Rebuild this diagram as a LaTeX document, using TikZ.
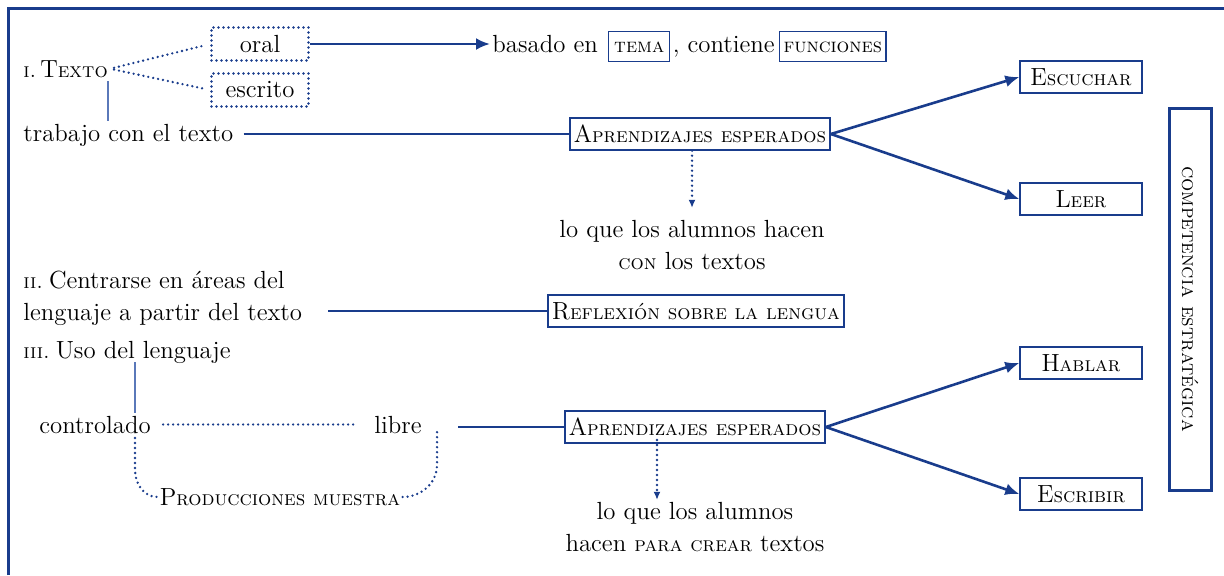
\documentclass[tikz,border=0pt]{standalone}
\usepackage{fontspec}
\usepackage{tikz}
\usetikzlibrary{arrows.meta,positioning}
\definecolor{linkblue}{RGB}{25,60,140}
\definecolor{paleblue}{RGB}{90,120,185}
\newcommand\scx[1]{{\fontsize{10.4}{14}\selectfont\textsc{#1}}}
\newcommand\capsc[2]{#1\scx{#2}}
\newcommand\sctag[1]{{\fontsize{10}{14}\selectfont\textsc{#1}}}

\begin{document}
\begin{tikzpicture}[x=0.5pt,y=-0.5pt,
	font=\fontsize{12.4}{16}\selectfont,
	txt/.style={inner sep=1pt},
	mainline/.style={draw=linkblue,line width=1.3pt},
	thinline/.style={draw=paleblue,line width=0.8pt},
	dotline/.style={draw=linkblue,line width=1.3pt,line cap=round,dash pattern=on 0pt off 2.5pt},
	tipline/.style={mainline,-{Latex[length=7pt,width=6pt]}},
	dottip/.style={dotline,-{Latex[length=4pt,width=3.5pt]}},
	wordbox/.style={draw=linkblue,line width=0.7pt,fill=white,inner sep=2pt,minimum height=16pt},
	skillbox/.style={wordbox,minimum width=61pt},
	dotbox/.style={dotline,minimum width=48.5pt,minimum height=16.5pt,inner sep=1pt},
	tagbox/.style={draw=linkblue,line width=0.6pt,minimum height=15pt,inner sep=2pt}]
	\useasboundingbox (0,0) rectangle (1224,575);
	\draw[draw=linkblue,line width=1.5pt] (8,575) -- (8,8) -- (1224,8);

	\node[txt,anchor=base west] (texto) at (21,77) {\scx{i.}\kern2pt\capsc{T}{exto}};
	\node[dotbox] (oral) at (260,44) {oral};
	\node[dotbox] (escrito) at (260,90) {escrito};
	\node[txt,anchor=base west] (trabajo) at (21,141) {trabajo con el texto};
	\node[wordbox] (apr1) at (700,134) {\capsc{A}{prendizajes esperados}};
	\node[txt,anchor=base west] (basado) at (490,52) {basado en};
	\node[tagbox,minimum width=30.5pt,base right=4pt of basado] (tema) {\sctag{tema}};
	\node[txt,base right=0pt of tema] (contiene) {, contiene};
	\node[tagbox,base right=1pt of contiene] (funciones) {\sctag{funciones}};
	\node[skillbox] (escuchar) at (1081,77) {\capsc{E}{scuchar}};
	\node[skillbox] (leer) at (1081,199) {\capsc{L}{eer}};
	\node[txt,align=center] (hacen1) at (692,245) {lo que los alumnos hacen\\\scx{con} los textos};

	\node[txt,anchor=west,align=left] (centrarse) at (21,298) {\scx{ii.}\kern3pt Centrarse en áreas del\\lenguaje a partir del texto};
	\node[wordbox] (reflexion) at (696,311) {\capsc{R}{eflexión sobre la lengua}};

	\node[txt,anchor=base west] (uso) at (21,358) {\scx{iii.}\kern3pt Uso del lenguaje};
	\node[txt,anchor=base west] (controlado) at (37,433) {controlado};
	\node[txt,anchor=base west] (libre) at (372,433) {libre};
	\node[txt] (muestra) at (280,497) {\capsc{P}{roducciones muestra}};
	\node[wordbox] (apr2) at (695,427) {\capsc{A}{prendizajes esperados}};
	\node[txt,align=center] (hacen2) at (695,527) {lo que los alumnos\\hacen \scx{para crear} textos};
	\node[skillbox] (hablar) at (1081,363) {\capsc{H}{ablar}};
	\node[skillbox] (escribir) at (1081,494) {\capsc{E}{scribir}};

	\node[wordbox,line width=1.5pt,rotate=-90,minimum width=191pt,minimum height=21pt] (competencia) at (1190,299) {\scx{competencia estratégica}};

	\coordinate (textofoot) at (108,81);
	\coordinate (usofoot) at (135,362);
	\coordinate (ctrlfoot) at (135,438);
	\coordinate (ctrlbend) at (135,470);
	\coordinate (librefoot) at (437,432);
	\coordinate (librebend) at (437,465);
	\coordinate (apr2drop) at (657,440);

	% texto
	\draw[dotline,shorten <=2pt,shorten >=3pt] (texto.east) -- (oral.west);
	\draw[dotline,shorten <=2pt,shorten >=3pt] (texto.east) -- (escrito.west);
	\draw[thinline] (textofoot) -- (textofoot |- trabajo.north);
	\draw[mainline,shorten <=4pt] (apr1.west -| trabajo.east) -- (apr1.west);
	\draw[tipline] (oral.east) -- (oral.east -| basado.west);
	\draw[tipline] (apr1.east) -- (escuchar.west);
	\draw[tipline] (apr1.east) -- (leer.west);
	\draw[dottip,shorten >=5pt] (apr1.south -| hacen1) -- (hacen1.north);

	% reflexion
	\draw[mainline,shorten <=12pt] (centrarse.east |- reflexion) -- (reflexion.west);

	% uso
	\draw[thinline] (usofoot) -- (usofoot |- controlado.north);
	\draw[dotline,shorten <=5pt,shorten >=7pt] (controlado.east) -- (libre.west);
	\draw[dotline] (ctrlfoot) -- (ctrlbend) to[out=-90,in=180] (muestra.west);
	\draw[dotline] (muestra.east) to[out=0,in=-90] (librebend) -- (librefoot);
	\draw[mainline,shorten <=17pt] (apr2.west -| libre.east) -- (apr2.west);
	\draw[dottip] (apr2drop) -- (apr2drop |- hacen2.north);
	\draw[tipline] (apr2.east) -- (hablar.west);
	\draw[tipline] (apr2.east) -- (escribir.west);
\end{tikzpicture}
\end{document}
